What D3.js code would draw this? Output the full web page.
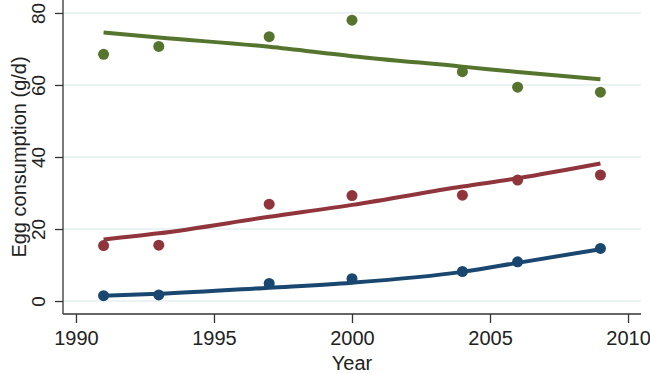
<!DOCTYPE html>
<html>
<head>
<meta charset="utf-8">
<script src="https://cdn.jsdelivr.net/npm/d3@7"></script>
<style>
  html, body { margin: 0; padding: 0; background: #fff; }
  svg { display: block; font-family: "Liberation Sans", Arial, sans-serif; }
</style>
</head>
<body>
<div id="chart"></div>
<script>
// Données
const years = [1991, 1993, 1997, 2000, 2004, 2006, 2009];

const greenObs = [68.5, 70.7, 73.4, 78.0, 63.7, 59.4, 58.0];
const greenFit = [74.6, 73.2, 70.6, 68.0, 65.1, 63.6, 61.6];

const redObs = [15.4, 15.5, 26.9, 29.3, 29.4, 33.6, 35.0];
const redFit = [17.1, 18.8, 23.4, 26.7, 31.8, 34.1, 38.2];

const blueObs = [1.5, 1.7, 4.9, 6.2, 8.2, 10.9, 14.6];
const blueFit = [1.5, 2.0, 3.7, 5.1, 8.1, 10.6, 14.4];

const xTicks = [1990, 1995, 2000, 2005, 2010];
const yTicks = [0, 20, 40, 60, 80];

const series = [
  { name: 'green', color: '#55752f', obs: greenObs, fit: greenFit },
  { name: 'red', color: '#90353b', obs: redObs, fit: redFit },
  { name: 'blue', color: '#1a476f', obs: blueObs, fit: blueFit }
];

const W = 650, H = 374;
const plot = { left: 63, right: 641, top: 0, bottom: 314 };

const svg = d3.select('#chart').append('svg')
  .attr('width', W)
  .attr('height', H);

// Echelles
const x = d3.scaleLinear()
  .domain([1989.53, 2010.47])
  .range([plot.left, plot.right]);

const y = d3.scaleLinear()
  .domain([-3.6, 83.6])
  .range([plot.bottom, plot.top]);

// Grille horizontale
svg.append('g')
  .selectAll('line')
  .data(yTicks)
  .enter()
  .append('line')
  .attr('x1', plot.left)
  .attr('x2', plot.right)
  .attr('y1', d => y(d))
  .attr('y2', d => y(d))
  .attr('stroke', '#e6eff2')
  .attr('stroke-width', 1.5);

// Axe X
const gx = svg.append('g')
  .attr('transform', `translate(0,${plot.bottom})`)
  .call(d3.axisBottom(x).tickValues(xTicks).tickSize(9).tickPadding(8).tickFormat(d3.format('d')));
gx.select('.domain').remove();
gx.selectAll('.tick line').attr('stroke', '#333').attr('stroke-width', 1.3);
gx.selectAll('.tick text')
  .style('font-size', '20px')
  .attr('fill', '#222');

svg.append('line')
  .attr('x1', plot.left)
  .attr('x2', plot.right)
  .attr('y1', plot.bottom)
  .attr('y2', plot.bottom)
  .attr('stroke', '#333')
  .attr('stroke-width', 1.3);

// Axe Y
const gy = svg.append('g')
  .attr('transform', `translate(${plot.left},0)`)
  .call(d3.axisLeft(y).tickValues(yTicks).tickSize(8));
gy.select('.domain').remove();
gy.selectAll('.tick line').attr('stroke', '#333').attr('stroke-width', 1.3);
gy.selectAll('.tick text')
  .attr('x', 0)
  .attr('y', -18)
  .attr('dy', null)
  .attr('transform', 'rotate(-90)')
  .style('text-anchor', 'middle')
  .style('font-size', '19px')
  .attr('fill', '#222');

svg.append('line')
  .attr('x1', plot.left)
  .attr('x2', plot.left)
  .attr('y1', plot.top)
  .attr('y2', plot.bottom)
  .attr('stroke', '#333')
  .attr('stroke-width', 1.3);

// Titres des axes
svg.append('text')
  .attr('x', (plot.left + plot.right) / 2)
  .attr('y', 370)
  .style('text-anchor', 'middle')
  .style('font-size', '20px')
  .attr('fill', '#222')
  .text('Year');

svg.append('text')
  .attr('transform', `translate(26,${(plot.top + plot.bottom) / 2}) rotate(-90)`)
  .style('text-anchor', 'middle')
  .style('font-size', '20px')
  .attr('fill', '#222')
  .text('Egg consumption (g/d)');

// Points et courbes ajustées
const line = d3.line()
  .x((d, i) => x(years[i]))
  .y(d => y(d))
  .curve(d3.curveMonotoneX);

series.forEach(s => {
  svg.append('g')
    .selectAll('circle')
    .data(s.obs)
    .enter()
    .append('circle')
    .attr('cx', (d, i) => x(years[i]))
    .attr('cy', d => y(d))
    .attr('r', 5.5)
    .attr('fill', s.color);

  svg.append('path')
    .datum(s.fit)
    .attr('d', line)
    .attr('fill', 'none')
    .attr('stroke', s.color)
    .attr('stroke-width', 4);
});
</script>
</body>
</html>
